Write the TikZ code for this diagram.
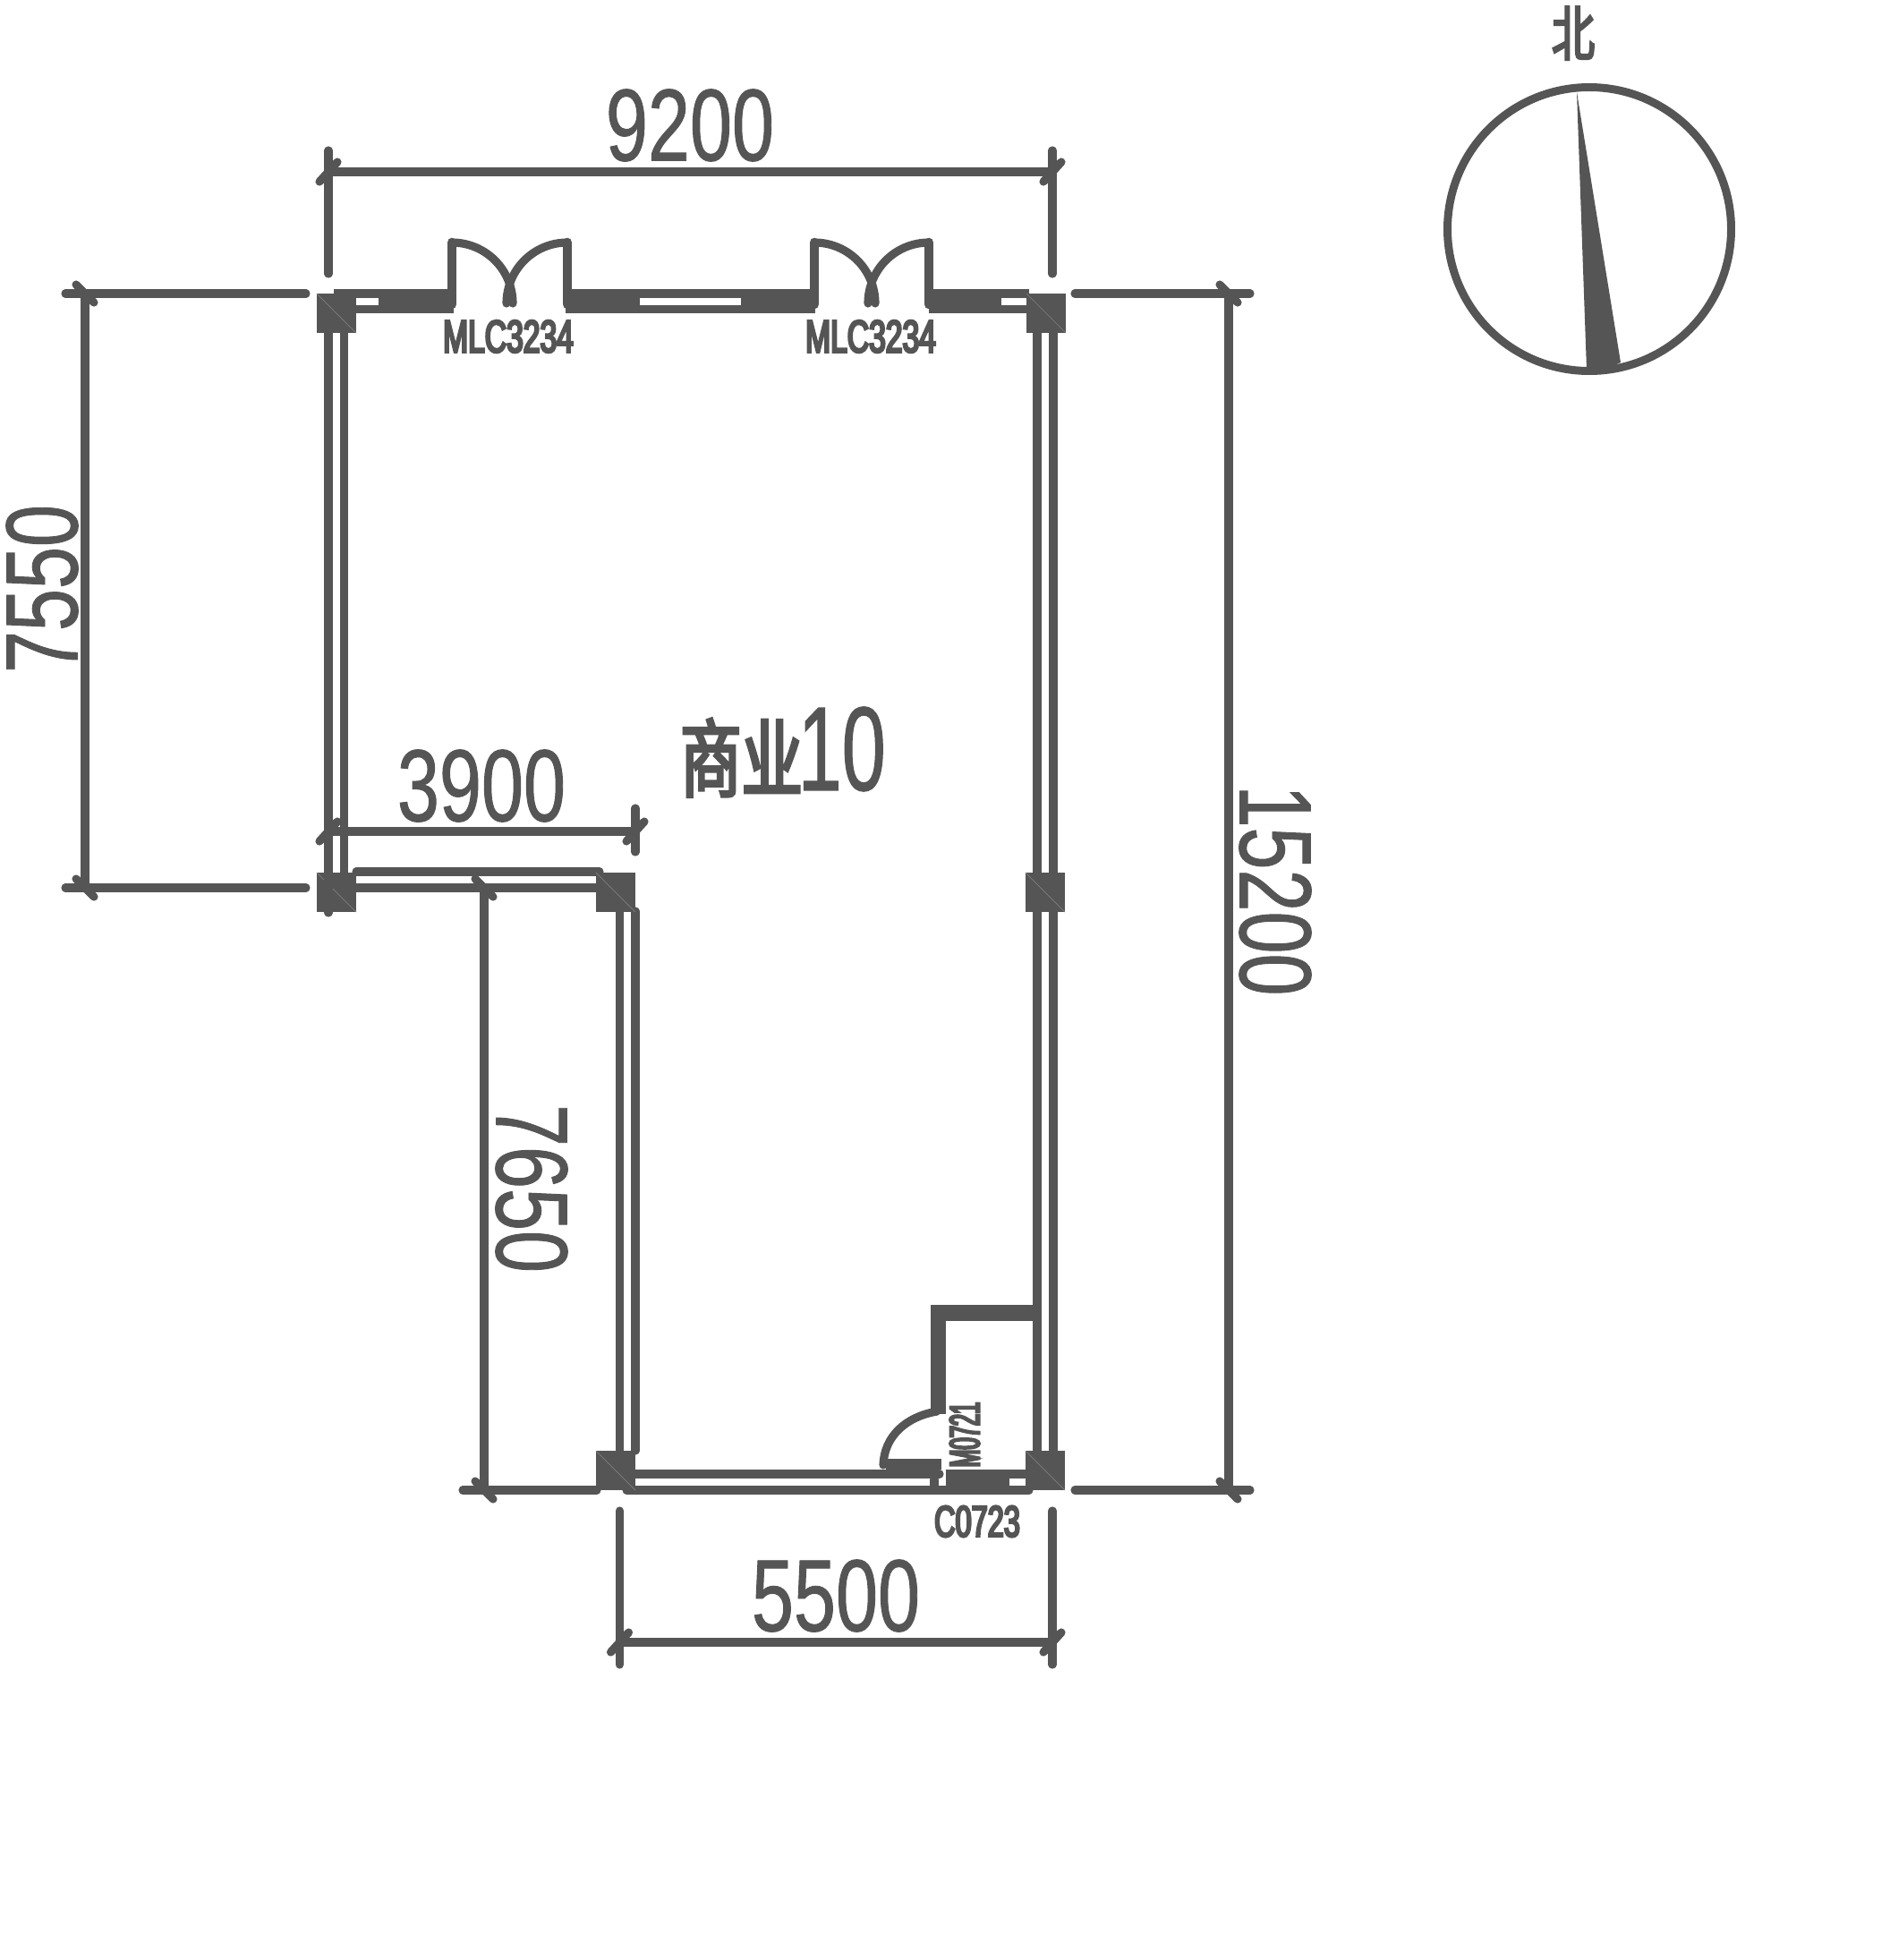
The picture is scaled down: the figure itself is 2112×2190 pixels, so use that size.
\documentclass[tikz,border=0pt]{standalone}
\usepackage{fontspec}
\newfontfamily\cadfont[FakeStretch=0.74,FakeBold=0.8]{Liberation Sans}
\newfontfamily\roomfont[FakeStretch=0.66,FakeBold=0.8]{Liberation Sans}
\newfontfamily\tagfont[FakeStretch=0.66,FakeBold=5]{Liberation Sans}
\newfontfamily\doorfont[FakeStretch=0.5,FakeBold=5]{Liberation Sans}
\newfontfamily\cjkfont[FakeStretch=0.72,FakeBold=3.5]{Noto Sans CJK SC}
\definecolor{cadgrey}{HTML}{555555}
\newcommand{\cadsize}{\fontsize{32.5}{36}\selectfont}
\tikzset{
  wall/.style={cadgrey,line width=2.6pt,line cap=round},
  dimtext/.style={cadgrey,inner sep=0pt,font=\cadfont\cadsize},
  tagtext/.style={cadgrey,inner sep=0pt,font=\tagfont\fontsize{14.5}{16}\selectfont},
}

\begin{document}
\begin{tikzpicture}[x=0.01cm,y=-0.01cm]
    \useasboundingbox (0,0) rectangle (2112,2190);

    % walls
    \draw[wall] (367,372) -- (367,975);
    \draw[wall] (384.5,372) -- (384.5,975);
    \draw[wall] (1159,372) -- (1159,1621);
    \draw[wall] (1177,372) -- (1177,1621);
    \draw[wall] (692.5,1018) -- (692.5,1621);
    \draw[wall] (710,1018) -- (710,1621);
    \draw[wall] (398,974) -- (670,974);
    \draw[wall] (398,992) -- (666,992);
    \draw[wall] (709,1647) -- (1050,1647);
    \draw[wall] (700,1665) -- (1150,1665);

    % north wall with doors and windows
    \fill[cadgrey] (373,323) rectangle (507,350);
    \fill[cadgrey] (632,323) rectangle (911,350);
    \fill[cadgrey] (1038,323) rectangle (1150,350);
    \fill[white] (397.5,333) rectangle (423,341);
    \fill[white] (715,333) rectangle (828,341);
    \fill[white] (1119,333) rectangle (1147,341);
    \foreach \cx in {505,910} {
        \draw[wall,line width=3pt] (\cx,340) -- (\cx,271);
        \draw[wall] (\cx,271) arc[start angle=-90,end angle=0,radius=68];
    }
    \foreach \cx in {634,1038} {
        \draw[wall,line width=3pt] (\cx,340) -- (\cx,271);
        \draw[wall] (\cx,271) arc[start angle=-90,end angle=-180,radius=68];
    }

    % kitchen corner
    \fill[cadgrey] (1040,1458) rectangle (1163,1476);
    \fill[cadgrey] (1040,1458) rectangle (1057,1580);
    \fill[cadgrey] (990,1630) rectangle (1052,1642);
    \fill[cadgrey] (1057,1642) rectangle (1128,1670);
    \fill[cadgrey] (1128,1642) rectangle (1146,1652);
    \draw[wall] (1044,1653) -- (1044,1660);
    \draw[wall] (1047,1577) .. controls (1012,1583) and (988,1605) .. (987,1637);

    % columns
    \foreach \cx/\cy in {354/328,1147/328,354/975,666/975,1146/975,666/1621,1146/1621} {
        \fill[cadgrey] (\cx,\cy) rectangle +(44,44);
        \draw[cadgrey!75,line width=0.2pt] (\cx,\cy) -- +(44,44);
    }

    % dimension lines
    \draw[wall] (367,192) -- (1176,192);
    \draw[wall] (367,168) -- (367,306);
    \draw[wall] (1176,168) -- (1176,306);
    \draw[wall] (95,328) -- (95,992);
    \draw[wall] (73,328) -- (342,328);
    \draw[wall] (73,992) -- (342,992);
    \draw[wall] (1373,328) -- (1373,1665);
    \draw[wall] (1201,328) -- (1397,328);
    \draw[wall] (1201,1665) -- (1397,1665);
    \draw[wall] (367,929) -- (710,929);
    \draw[wall] (710,903) -- (710,952);
    \draw[wall] (367,975) -- (367,1020);
    \draw[wall] (541,992) -- (541,1665);
    \draw[wall] (517,1665) -- (667,1665);
    \draw[wall] (692.5,1835) -- (1176,1835);
    \draw[wall] (692.5,1688) -- (692.5,1860);
    \draw[wall] (1176,1688) -- (1176,1860);
    % ticks
    \foreach \px/\py in {367/192,1176/192,367/929,710/929,692.5/1835,1176/1835} {
        \draw[wall] (\px-10,\py+11) -- (\px+10,\py-11);
    }
    \foreach \px/\py in {95/328,95/992,1373/328,1373/1665,541/992,541/1665} {
        \draw[wall] (\px-10,\py-10) -- (\px+10,\py+10);
    }

    % dimension texts
    \node[dimtext] (dimtop) at (771,140) {9200};
    \node[dimtext] (dimstep) at (538,878) {3900};
    \node[dimtext] (dimbottom) at (934,1783) {5500};
    \node[dimtext,rotate=90] (dimwest) at (47,658) {7550};
    \node[dimtext,rotate=-90] (dimeast) at (1425,995) {15200};
    \node[dimtext,rotate=-90] (dimlower) at (594,1328) {7650};

    % labels
    \node[tagtext] (doorone) at (568,376) {MLC3234};
    \node[tagtext] (doortwo) at (973,376) {MLC3234};
    \node[tagtext,font=\tagfont\fontsize{14}{16}\selectfont] (window) at (1092,1700) {C0723};
    \node[tagtext,rotate=90,font=\doorfont\fontsize{13.5}{16}\selectfont] (door) at (1078,1603) {M0721};
    \node[cadgrey,inner sep=0pt] (room) at (875,840) {{\cjkfont\fontsize{27}{32}\selectfont 商业}\kern-1.5pt{\roomfont\fontsize{38}{42}\selectfont 10}};

    % north arrow
    \draw[cadgrey,line width=2.55pt] (1776,256) circle[radius=158.5];
    \fill[cadgrey] (1762,103) -- (1773,413) -- (1795,412) -- (1811,405) -- cycle;
    \node[cadgrey,inner sep=0pt,font=\cjkfont\fontsize{19}{20}\selectfont] (north) at (1758,37) {北};
\end{tikzpicture}
\end{document}
